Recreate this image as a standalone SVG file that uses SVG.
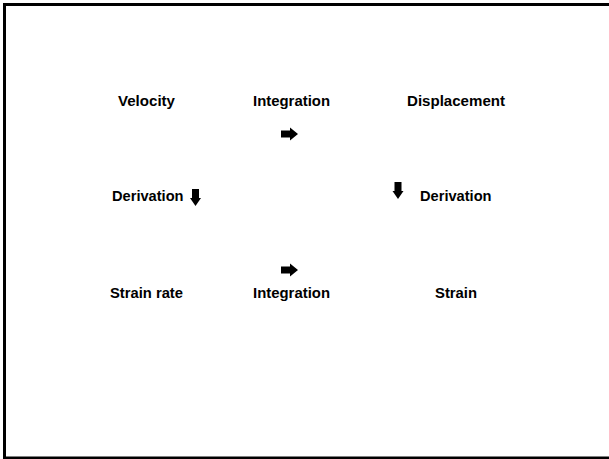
<svg xmlns="http://www.w3.org/2000/svg" width="609" height="459" viewBox="0 0 609 459">
<style>
text{font-family:"Liberation Sans",Arial,sans-serif;font-weight:bold;font-size:15px;fill:#000}
.arr{fill:#000}
</style>
<defs>
<path id="ra" d="M0,-3.5 H9 V-6.5 L17,0 L9,6.5 V3.5 H0 Z"/>
<path id="da" d="M-3.5,0 V9 H-5.5 L0,17 L5.5,9 H3.5 V0 Z"/>
</defs>
<rect width="609" height="459" fill="#fff"/>
<path d="M612,4.5 H4.5 V458 H612" fill="none" stroke="#000" stroke-width="3"/>
<g id="velocity"><text x="118" y="106" textLength="57" lengthAdjust="spacingAndGlyphs">Velocity</text></g>
<g id="displacement"><text x="407" y="106" textLength="98" lengthAdjust="spacingAndGlyphs">Displacement</text></g>
<g id="strain-rate"><text x="110" y="298" textLength="73" lengthAdjust="spacingAndGlyphs">Strain rate</text></g>
<g id="strain"><text x="435" y="298" textLength="42" lengthAdjust="spacingAndGlyphs">Strain</text></g>
<g id="connectors">
<g id="integration-top"><text x="253" y="106" textLength="77" lengthAdjust="spacingAndGlyphs">Integration</text><use href="#ra" x="281" y="134" class="arr"/></g>
<g id="derivation-left"><text x="112" y="201" textLength="71.5" lengthAdjust="spacingAndGlyphs">Derivation</text><use href="#da" x="195.5" y="189" class="arr"/></g>
<g id="derivation-right"><use href="#da" x="398" y="182" class="arr"/><text x="420" y="201" textLength="71.5" lengthAdjust="spacingAndGlyphs">Derivation</text></g>
<g id="integration-bottom"><use href="#ra" x="281" y="270" class="arr"/><text x="253" y="298" textLength="77" lengthAdjust="spacingAndGlyphs">Integration</text></g>
</g>
</svg>
